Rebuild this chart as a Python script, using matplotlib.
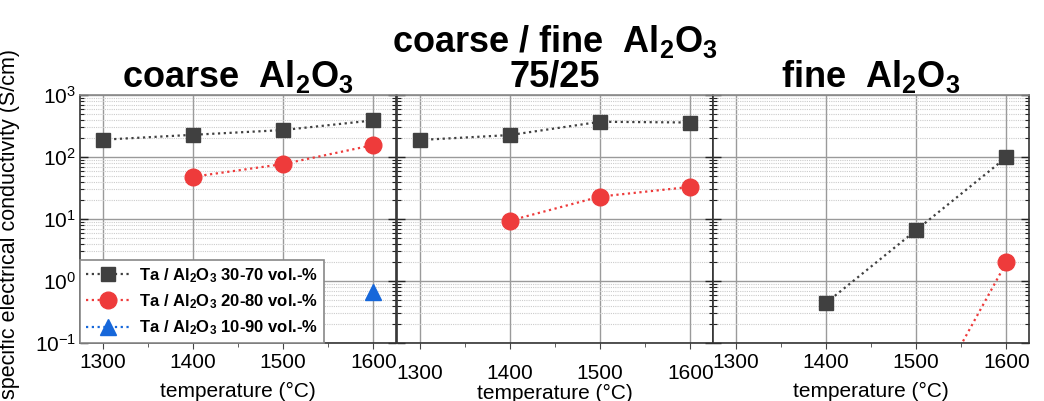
import numpy as np
import matplotlib
matplotlib.use("Agg")
import matplotlib.pyplot as plt
from matplotlib.ticker import LogLocator, FixedLocator, NullFormatter

plt.rcParams['font.family'] = ['Liberation Sans', 'DejaVu Sans']
plt.rcParams['mathtext.fontset'] = 'custom'
plt.rcParams['mathtext.rm'] = 'Liberation Sans'
plt.rcParams['mathtext.bf'] = 'Liberation Sans:bold'
plt.rcParams['mathtext.it'] = 'Liberation Sans:italic'

# sintering temperature (°C)
temps = [1300, 1400, 1500, 1600]

# conductivity (S/cm), nan = not measured
coarse_30 = [190, 228, 272, 390]
coarse_20 = [np.nan, 48, 77, 156]
coarse_10 = [np.nan, np.nan, np.nan, 0.67]

mixed_30 = [188, 226, 370, 360]
mixed_20 = [np.nan, 9.4, 23, 33]

fine_30 = [np.nan, 0.44, 6.6, 99]
fine_20 = [np.nan, np.nan, 0.0045, 2.0]

titles = [r"coarse  Al$_\mathbf{2}$O$_\mathbf{3}$",
          "coarse / fine  Al$_\\mathbf{2}$O$_\\mathbf{3}$\n75/25",
          r"fine  Al$_\mathbf{2}$O$_\mathbf{3}$"]
labels = [r"Ta / Al$_\mathbf{2}$O$_\mathbf{3}$ 30-70 vol.-%",
          r"Ta / Al$_\mathbf{2}$O$_\mathbf{3}$ 20-80 vol.-%",
          r"Ta / Al$_\mathbf{2}$O$_\mathbf{3}$ 10-90 vol.-%"]

c_sq = '#404040'
c_red = '#EE3B3B'
c_blue = '#1667DA'
dots = (0, (1, 1.6))

fig = plt.figure(figsize=(10.44, 4.01), dpi=100)
lefts = [80, 397, 713]
axes = [fig.add_axes([l / 1044, 58 / 401, 316 / 1044, 248 / 401]) for l in lefts]

panels = [
    [(coarse_30, c_sq, 's', 10), (coarse_20, c_red, 'o', 12), (coarse_10, c_blue, '^', 12)],
    [(mixed_30, c_sq, 's', 10), (mixed_20, c_red, 'o', 12)],
    [(fine_30, c_sq, 's', 10), (fine_20, c_red, 'o', 12)],
]

for i, ax in enumerate(axes):
    for vals, col, mk, ms in panels[i]:
        ax.plot(temps, vals, color=col, marker=mk, ms=ms, ls=dots, lw=1.6,
                mec=col, zorder=3)
    ax.set_yscale('log')
    ax.set_ylim(0.1, 1000)
    ax.set_xlim(1275, 1625)
    ax.xaxis.set_major_locator(FixedLocator(temps))
    ax.xaxis.set_minor_locator(FixedLocator([1350, 1450, 1550]))
    ax.yaxis.set_major_locator(LogLocator(base=10, numticks=10))
    ax.yaxis.set_minor_locator(LogLocator(base=10, subs=np.arange(2, 10), numticks=10))
    ax.yaxis.set_minor_formatter(NullFormatter())
    ax.grid(True, which='major', color='#9a9a9a', lw=1.0, ls='-')
    ax.grid(True, which='minor', axis='y', color='#cccccc', lw=0.8, ls=(0, (1, 1)))
    ax.set_axisbelow(True)
    ax.tick_params(axis='y', which='both', direction='in', left=True, right=True,
                   labelsize=15, pad=3, color='#222222')
    ax.tick_params(axis='y', which='major', length=6, width=1)
    ax.tick_params(axis='y', which='minor', length=3, width=0.8)
    ax.tick_params(axis='x', which='both', direction='out', labelsize=15,
                   color='#444444')
    ax.tick_params(axis='x', which='major', length=4)
    ax.tick_params(axis='x', which='minor', length=3)
    for s in ax.spines.values():
        s.set_color('#333333')
        s.set_linewidth(1.2)
    ax.spines['top'].set_color('#888888')
    if i > 0:
        ax.tick_params(axis='y', labelleft=False)
    ax.set_title(titles[i], fontsize=26, fontweight='bold', linespacing=1.0,
                 pad=6)
    ax.set_xlabel("temperature (°C)", fontsize=15)
    ax.xaxis.set_label_coords(0.5, -0.155)

# middle panel has its tick labels set lower
axes[1].tick_params(axis='x', which='major', pad=11)
axes[1].xaxis.set_label_coords(0.5, -0.165)

axes[0].set_ylabel("specific electrical conductivity (S/cm)", fontsize=15.5)
axes[0].yaxis.set_label_coords(-0.19, 0.48)

handles = axes[0].get_lines()
leg = axes[0].legend(handles, labels, loc='lower left',
                     prop={'weight': 'bold', 'size': 12}, handlelength=2.7,
                     handletextpad=0.5, borderaxespad=0.0, labelspacing=0.45,
                     fancybox=False, framealpha=1, edgecolor='#888888',
                     borderpad=0.35)
leg.get_frame().set_linewidth(1.2)

fig.savefig("out.png", dpi=100)
